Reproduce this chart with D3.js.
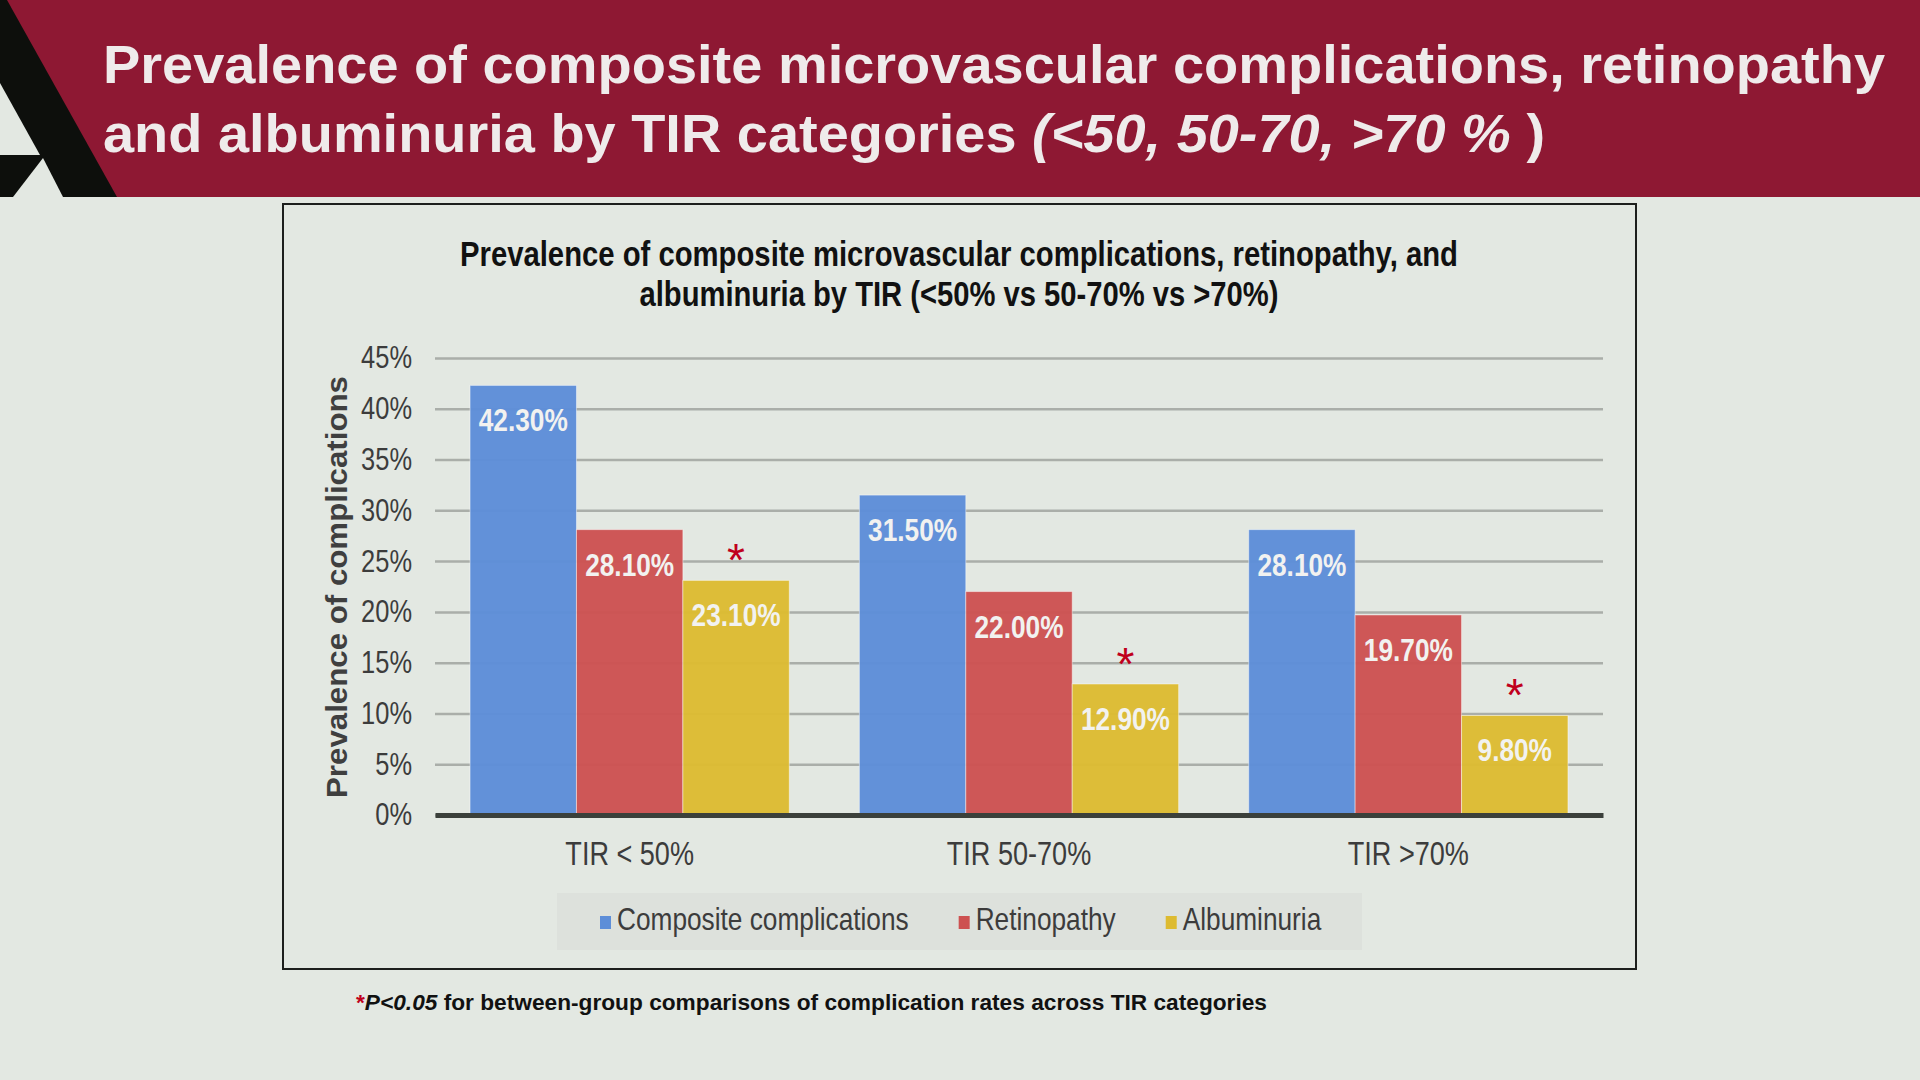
<!DOCTYPE html>
<html>
<head>
<meta charset="utf-8">
<script src="https://cdn.jsdelivr.net/npm/d3@7"></script>
<style>
    body { margin: 0; background: #e3e8e2; }
    svg { display: block; font-family: "Liberation Sans", Arial, sans-serif; }
</style>
</head>
<body>
<div id="chart"></div>
<script>
// chart data
const categories = ["TIR < 50%", "TIR 50-70%", "TIR >70%"];
const seriesNames = ["Composite complications", "Retinopathy", "Albuminuria"];
const compositeValues = [42.3, 31.5, 28.1];
const retinopathyValues = [28.1, 22.0, 19.7];
const albuminuriaValues = [23.1, 12.9, 9.8];
const yTicks = [0, 5, 10, 15, 20, 25, 30, 35, 40, 45];
const starredSeries = ["Albuminuria"];

const colors = ["#5d8ed8", "#cd5151", "#ddbb31"];

// no narrow font installed: squeeze Liberation Sans to Arial Narrow width
function condense(sel, factor){
    sel.each(function(){
        let len = this.getComputedTextLength();
        d3.select(this)
            .attr("textLength", len * factor)
            .attr("lengthAdjust", "spacingAndGlyphs");
    });
}
function fitWidth(sel, w){
    sel.attr("textLength", w).attr("lengthAdjust", "spacingAndGlyphs");
}

let W = 1920, H = 1080;

let svg = d3.select("#chart").append("svg")
    .attr("width", W)
    .attr("height", H);

svg.append("rect")
    .attr("width", W).attr("height", H)
    .attr("fill", "#e3e8e2");

// header band
svg.append("rect")
    .attr("width", W).attr("height", 197)
    .attr("fill", "#8e1833");

// logo
svg.append("polygon")
    .attr("points", "0,0 7,0 117,197 0,197")
    .attr("fill", "#0d0f0c");
svg.append("polygon")
    .attr("points", "0,83 40,155 0,155")
    .attr("fill", "#e3e8e2");
svg.append("polygon")
    .attr("points", "43,158 13,197 63,197")
    .attr("fill", "#e3e8e2");

let header = svg.append("g")
    .attr("font-weight", "bold")
    .attr("font-size", 54)
    .attr("fill", "#efebeb");

header.append("text")
    .attr("x", 103).attr("y", 83)
    .text("Prevalence of composite microvascular complications, retinopathy")
    .call(fitWidth, 1782);

let h2 = header.append("text")
    .attr("x", 103).attr("y", 152);
h2.append("tspan").text("and albuminuria by TIR categories ");
h2.append("tspan").attr("font-style", "italic").text("(<50, 50-70, >70 % ");
h2.append("tspan").text(")");
h2.call(fitWidth, 1442);

// chart frame
svg.append("rect")
    .attr("x", 283).attr("y", 204)
    .attr("width", 1353).attr("height", 765)
    .attr("fill", "none")
    .attr("stroke", "#1d1f1d")
    .attr("stroke-width", 2);

// chart title
let titleLines = ["Prevalence of composite microvascular complications, retinopathy, and",
    "albuminuria by TIR (<50% vs 50-70% vs >70%)"];
let titleWidths = [998, 639];
svg.selectAll(".chart-title")
    .data(titleLines)
    .enter()
    .append("text")
    .attr("class", "chart-title")
    .attr("x", 959)
    .attr("y", (d, i) => 266 + i * 40)
    .attr("text-anchor", "middle")
    .attr("font-weight", "bold")
    .attr("font-size", 35)
    .attr("fill", "#111")
    .text(d => d)
    .attr("textLength", (d, i) => titleWidths[i])
    .attr("lengthAdjust", "spacingAndGlyphs");

// plot area
let margin = { top: 358, left: 435 };
let width = 1168, height = 457;

let plot = svg.append("g")
    .attr("transform", `translate(${margin.left}, ${margin.top})`);

let x = d3.scaleBand()
    .domain(categories)
    .range([0, width])
    .paddingInner(0.18)
    .paddingOuter(0.09);

let xSub = d3.scaleBand()
    .domain(seriesNames)
    .range([0, x.bandwidth()]);

let y = d3.scaleLinear()
    .domain([0, 45])
    .range([height, 0]);

let yAxis = d3.axisLeft(y)
    .tickValues(yTicks)
    .tickFormat(d => d + "%")
    .tickSize(-width)
    .tickPadding(23);

let yg = plot.append("g")
    .attr("class", "axis y-axis")
    .call(yAxis);
yg.select(".domain").remove();
yg.selectAll("line")
    .attr("stroke", "#aaaea9")
    .attr("stroke-width", 2.5);
yg.selectAll("text")
    .attr("font-family", null)
    .attr("font-size", 31)
    .attr("fill", "#3c3c3c")
    .call(condense, 0.82);

// rows of data per category
let rows = categories.map((c, i) => ({
    name: c,
    values: [compositeValues[i], retinopathyValues[i], albuminuriaValues[i]]
}));

let groups = plot.selectAll(".group")
    .data(rows)
    .enter()
    .append("g")
    .attr("class", "group")
    .attr("transform", d => `translate(${x(d.name)}, 0)`);

let cells = groups.selectAll(".cell")
    .data(d => d.values.map((v, i) => ({ series: seriesNames[i], value: v, color: colors[i] })))
    .enter()
    .append("g")
    .attr("class", "cell");

cells.append("rect")
    .attr("x", d => xSub(d.series))
    .attr("y", d => y(d.value))
    .attr("width", xSub.bandwidth())
    .attr("height", d => height - y(d.value))
    .attr("fill", d => d.color)
    .attr("fill-opacity", 0.96)
    .attr("stroke", "rgba(255,255,255,0.45)")
    .attr("stroke-width", 1);

cells.append("text")
    .attr("x", d => xSub(d.series) + xSub.bandwidth() / 2)
    .attr("y", d => y(d.value) + 46)
    .attr("text-anchor", "middle")
    .attr("font-weight", "bold")
    .attr("font-size", 32)
    .attr("fill", "#f2f2f0")
    .text(d => d3.format(".2f")(d.value) + "%")
    .call(condense, 0.82);

// significance stars
cells.filter(d => starredSeries.includes(d.series))
    .append("text")
    .attr("x", d => xSub(d.series) + xSub.bandwidth() / 2)
    .attr("y", d => y(d.value) - 4)
    .attr("text-anchor", "middle")
    .attr("font-size", 46)
    .attr("fill", "#c0001c")
    .text("*");

// x axis
let xAxis = d3.axisBottom(x)
    .tickSize(0)
    .tickSizeOuter(0);

let xg = plot.append("g")
    .attr("class", "axis x-axis")
    .attr("transform", `translate(0, ${height})`)
    .call(xAxis);
xg.select(".domain")
    .attr("stroke", "#3b403b")
    .attr("stroke-width", 5);
xg.selectAll("text")
    .attr("font-family", null)
    .attr("dy", null)
    .attr("y", 50)
    .attr("font-size", 33)
    .attr("fill", "#3c3c3c")
    .call(condense, 0.82);

// y axis label
svg.append("text")
    .attr("transform", "rotate(-90)")
    .attr("x", -587)
    .attr("y", 347)
    .attr("text-anchor", "middle")
    .attr("font-weight", "bold")
    .attr("font-size", 30)
    .attr("fill", "#3f3f3f")
    .text("Prevalence of complications")
    .call(fitWidth, 422);

// legend
let legend = svg.append("g").attr("class", "legend");
legend.append("rect")
    .attr("x", 557).attr("y", 893)
    .attr("width", 805).attr("height", 57)
    .attr("fill", "#dde1dc");

let lx = 600;
seriesNames.forEach(function(name, i){
    legend.append("rect")
        .attr("x", lx).attr("y", 916)
        .attr("width", 11).attr("height", 13)
        .attr("fill", colors[i]);
    let t = legend.append("text")
        .attr("x", lx + 17).attr("y", 930)
        .attr("font-size", 32)
        .attr("fill", "#3c3c3c")
        .text(name);
    let len = t.node().getComputedTextLength() * 0.82;
    t.call(fitWidth, len);
    lx += 17 + len + 50;
});

// footnote
let foot = svg.append("text")
    .attr("x", 356).attr("y", 1010)
    .attr("font-weight", "bold")
    .attr("font-size", 22)
    .attr("fill", "#111");
foot.append("tspan").attr("fill", "#c0001c").text("*");
foot.append("tspan").attr("font-style", "italic").text("P<0.05");
foot.append("tspan").text(" for between-group comparisons of complication rates across TIR categories");
foot.call(fitWidth, 911);
</script>
</body>
</html>
